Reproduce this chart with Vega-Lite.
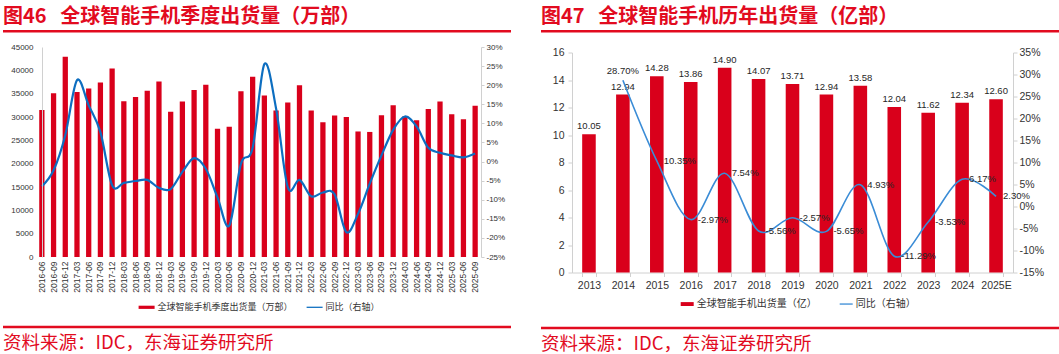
{
  "$schema": "https://vega.github.io/schema/vega-lite/v6.json",
  "padding": {"left": 3, "top": 7, "right": 0, "bottom": 0},
  "background": "white",
  "config": {
    "locale": {"number": {"decimal": ".", "thousands": ",", "grouping": [3], "currency": ["$", ""], "minus": "-"}},
    "view": {"stroke": null},
    "font": "Liberation Sans",
    "axis": {"domainColor": "#D0D0D0", "tickColor": "#D0D0D0", "labelColor": "#333333", "grid": false, "title": null, "labelFont": "Liberation Sans", "labelOverlap": false},
    "legend": {"labelFont": "Noto Sans CJK SC", "labelColor": "#333333", "symbolStrokeWidth": 0},
    "title": {"font": "Noto Sans CJK SC"}
  },
  "resolve": {"scale": {"color": "independent"}, "legend": {"color": "independent"}},
  "spacing": 30,
  "hconcat": [
    {
      "spacing": 4,
      "columns": 1,
      "resolve": {"scale": {"color": "independent"}, "legend": {"color": "independent"}},
      "concat": [
        {
          "width": 508, "height": 2.5,
          "view": {"fill": "#E20B1F", "stroke": null},
          "title": {"text": "图46\u00a0\u00a0\u00a0全球智能手机季度出货量（万部）", "anchor": "start", "frame": "group", "color": "#E20B1F", "fontSize": 20, "fontWeight": "bold", "offset": -2},
          "data": {"values": [{"t": ""}]},
          "mark": "text",
          "encoding": {"text": {"field": "t"}}
        },
        {
          "spacing": 7.75,
          "columns": 1,
          "resolve": {"scale": {"color": "independent"}, "legend": {"color": "independent"}},
          "concat": [
            {
              "spacing": 0,
              "resolve": {"scale": {"color": "independent"}, "legend": {"color": "independent"}},
              "hconcat": [
                {
                  "width": 1, "height": 1,
                  "data": {"values": [{"t": ""}]},
                  "mark": "text",
                  "encoding": {"text": {"field": "t"}}
                },
                {
                  "width": 445, "height": 210,
                  "data": {"values": [
                    {"q": "2016-06", "ship": 31500, "yoy": -0.065},
                    {"q": "2016-09", "ship": 35100, "yoy": -0.023},
                    {"q": "2016-12", "ship": 42900, "yoy": 0.069},
                    {"q": "2017-03", "ship": 35350, "yoy": 0.213},
                    {"q": "2017-06", "ship": 36100, "yoy": 0.147},
                    {"q": "2017-09", "ship": 37400, "yoy": 0.077},
                    {"q": "2017-12", "ship": 40400, "yoy": -0.062},
                    {"q": "2018-03", "ship": 33400, "yoy": -0.056},
                    {"q": "2018-06", "ship": 34300, "yoy": -0.051},
                    {"q": "2018-09", "ship": 35600, "yoy": -0.048},
                    {"q": "2018-12", "ship": 37600, "yoy": -0.069},
                    {"q": "2019-03", "ship": 31100, "yoy": -0.072},
                    {"q": "2019-06", "ship": 33300, "yoy": -0.027},
                    {"q": "2019-09", "ship": 35800, "yoy": 0.009},
                    {"q": "2019-12", "ship": 36900, "yoy": -0.019},
                    {"q": "2020-03", "ship": 27500, "yoy": -0.094},
                    {"q": "2020-06", "ship": 27900, "yoy": -0.168},
                    {"q": "2020-09", "ship": 35500, "yoy": -0.006},
                    {"q": "2020-12", "ship": 38600, "yoy": 0.036},
                    {"q": "2021-03", "ship": 34600, "yoy": 0.255},
                    {"q": "2021-06", "ship": 31400, "yoy": 0.139},
                    {"q": "2021-09", "ship": 33100, "yoy": -0.067},
                    {"q": "2021-12", "ship": 36800, "yoy": -0.048},
                    {"q": "2022-03", "ship": 31400, "yoy": -0.091},
                    {"q": "2022-06", "ship": 28900, "yoy": -0.081},
                    {"q": "2022-09", "ship": 30300, "yoy": -0.086},
                    {"q": "2022-12", "ship": 30000, "yoy": -0.185},
                    {"q": "2023-03", "ship": 26900, "yoy": -0.137},
                    {"q": "2023-06", "ship": 26800, "yoy": -0.058},
                    {"q": "2023-09", "ship": 30400, "yoy": 0.016},
                    {"q": "2023-12", "ship": 32500, "yoy": 0.083},
                    {"q": "2024-03", "ship": 30100, "yoy": 0.118},
                    {"q": "2024-06", "ship": 29300, "yoy": 0.092},
                    {"q": "2024-09", "ship": 31700, "yoy": 0.036},
                    {"q": "2024-12", "ship": 33300, "yoy": 0.023},
                    {"q": "2025-03", "ship": 30600, "yoy": 0.016},
                    {"q": "2025-06", "ship": 29500, "yoy": 0.011},
                    {"q": "2025-09", "ship": 32400, "yoy": 0.021}
                  ]},
                  "encoding": {
                    "x": {"field": "q", "type": "ordinal", "sort": null,
                      "scale": {"paddingInner": 0.55, "paddingOuter": 0.275},
                      "axis": {"labelAngle": -90, "labelFontSize": 8.5, "ticks": false, "domain": false, "labelPadding": 4, "labelOverlap": false}}
                  },
                  "layer": [
                    {
                      "mark": {"type": "bar"},
                      "encoding": {
                        "y": {"field": "ship", "type": "quantitative", "scale": {"domain": [0, 45000]},
                          "axis": {"values": [0, 5000, 10000, 15000, 20000, 25000, 30000, 35000, 40000, 45000], "format": "d", "labelFontSize": 8, "ticks": false, "labelPadding": 9, "offset": -6, "minExtent": 38, "zindex": 1, "labelOverlap": false}},
                        "color": {"datum": "全球智能手机季度出货量（万部）", "type": "nominal",
                          "scale": {"domain": ["全球智能手机季度出货量（万部）", "同比（右轴）"], "range": ["#D9001B", "#0D6EC0"]},
                          "legend": {"title": null, "orient": "none", "legendX": 102.6, "legendY": 252.3, "padding": 0, "direction": "horizontal", "labelFontSize": 9, "symbolSize": 256, "columnPadding": 13, "labelOffset": 3,
                            "encode": {"symbols": {"update": {
                              "shape": {"signal": "datum.value === '同比（右轴）' ? 'M-1,-0.08H1V0.08H-1Z' : 'M-1,-0.2H1V0.2H-1Z'"},
                              "fill": {"signal": "datum.value === '同比（右轴）' ? '#0D6EC0' : '#D9001B'"},
                              "stroke": {"value": "transparent"},
                              "opacity": {"value": 1}}}}}}
                      }
                    },
                    {
                      "mark": {"type": "line", "interpolate": "cardinal", "strokeWidth": 2.2},
                      "encoding": {
                        "y": {"field": "yoy", "type": "quantitative", "scale": {"domain": [-0.25, 0.3]},
                          "axis": {"orient": "right", "values": [-0.25, -0.2, -0.15, -0.1, -0.05, 0, 0.05, 0.1, 0.15, 0.2, 0.25, 0.3], "format": ".0%", "labelFontSize": 8, "tickSize": 3, "labelPadding": 2, "labelOverlap": false}},
                        "color": {"datum": "同比（右轴）", "type": "nominal"}
                      }
                    }
                  ],
                  "resolve": {"scale": {"y": "independent"}}
                }
              ]
            },
            {
              "width": 508, "height": 2.5,
              "view": {"fill": "#E20B1F", "stroke": null},
              "title": {"text": "资料来源：IDC，东海证券研究所", "orient": "bottom", "anchor": "start", "frame": "group", "color": "#E20B1F", "fontSize": 18.5, "fontWeight": "normal", "offset": 1.5, "baseline": "top"},
              "data": {"values": [{"t": ""}]},
              "mark": "text",
              "encoding": {"text": {"field": "t"}}
            }
          ]
        }
      ]
    },
    {
      "spacing": 9.5,
      "columns": 1,
      "resolve": {"scale": {"color": "independent"}, "legend": {"color": "independent"}},
      "concat": [
        {
          "width": 520, "height": 2.5,
          "view": {"fill": "#E20B1F", "stroke": null},
          "title": {"text": "图47\u00a0\u00a0\u00a0全球智能手机历年出货量（亿部）", "anchor": "start", "frame": "group", "color": "#E20B1F", "fontSize": 20, "fontWeight": "bold", "offset": -2},
          "data": {"values": [{"t": ""}]},
          "mark": "text",
          "encoding": {"text": {"field": "t"}}
        },
        {
          "spacing": 12.25,
          "columns": 1,
          "resolve": {"scale": {"color": "independent"}, "legend": {"color": "independent"}},
          "concat": [
            {
              "spacing": 0,
              "resolve": {"scale": {"color": "independent"}, "legend": {"color": "independent"}},
              "hconcat": [
                {
                  "width": 1, "height": 1,
                  "data": {"values": [{"t": ""}]},
                  "mark": "text",
                  "encoding": {"text": {"field": "t"}}
                },
                {
                  "width": 441, "height": 220,
                  "data": {"values": [
                    {"year": "2013", "ship": 10.05, "yoy": null},
                    {"year": "2014", "ship": 12.94, "yoy": 0.287},
                    {"year": "2015", "ship": 14.28, "yoy": 0.1035},
                    {"year": "2016", "ship": 13.86, "yoy": -0.0297},
                    {"year": "2017", "ship": 14.90, "yoy": 0.0754},
                    {"year": "2018", "ship": 14.07, "yoy": -0.0556},
                    {"year": "2019", "ship": 13.71, "yoy": -0.0257},
                    {"year": "2020", "ship": 12.94, "yoy": -0.0565},
                    {"year": "2021", "ship": 13.58, "yoy": 0.0493},
                    {"year": "2022", "ship": 12.04, "yoy": -0.1129},
                    {"year": "2023", "ship": 11.62, "yoy": -0.0353},
                    {"year": "2024", "ship": 12.34, "yoy": 0.0617},
                    {"year": "2025E", "ship": 12.60, "yoy": 0.0230}
                  ]},
                  "encoding": {
                    "x": {"field": "year", "type": "ordinal", "sort": null,
                      "scale": {"paddingInner": 0.6, "paddingOuter": 0.3},
                      "axis": {"labelAngle": 0, "labelFontSize": 10.5, "tickBand": "extent", "tickSize": 4, "labelPadding": 4, "labelOverlap": false}}
                  },
                  "layer": [
                    {
                      "encoding": {
                        "y": {"field": "ship", "type": "quantitative", "scale": {"domain": [0, 16]},
                          "axis": {"values": [0, 2, 4, 6, 8, 10, 12, 14, 16], "labelFontSize": 10.5, "tickSize": 4, "labelPadding": 4, "minExtent": 30, "labelOverlap": false}}
                      },
                      "layer": [
                        {
                          "mark": {"type": "bar"},
                          "encoding": {
                            "color": {"datum": "全球智能手机出货量（亿）", "type": "nominal",
                              "scale": {"domain": ["全球智能手机出货量（亿）", "同比（右轴）"], "range": ["#D9001B", "#3A8CD6"]},
                              "legend": {"title": null, "orient": "none", "legendX": 108.7, "legendY": 244.8, "padding": 0, "direction": "horizontal", "labelFontSize": 10, "symbolSize": 169, "columnPadding": 23, "labelOffset": 3,
                                "encode": {"symbols": {"update": {
                                  "shape": {"signal": "datum.value === '同比（右轴）' ? 'M-1,-0.1H1V0.1H-1Z' : 'M-1,-0.3H1V0.3H-1Z'"},
                                  "fill": {"signal": "datum.value === '同比（右轴）' ? '#3A8CD6' : '#D9001B'"},
                                  "stroke": {"value": "transparent"},
                                  "opacity": {"value": 1}}}}}}
                          }
                        },
                        {
                          "mark": {"type": "text", "baseline": "alphabetic", "dy": -5, "fontSize": 9.5, "color": "#262626"},
                          "encoding": {
                            "text": {"field": "ship", "type": "quantitative", "format": ".2f"}
                          }
                        }
                      ]
                    },
                    {
                      "encoding": {
                        "y": {"field": "yoy", "type": "quantitative", "scale": {"domain": [-0.15, 0.35]},
                          "axis": {"orient": "right", "values": [-0.15, -0.1, -0.05, 0, 0.05, 0.1, 0.15, 0.2, 0.25, 0.3, 0.35], "format": ".0%", "labelFontSize": 10.5, "tickSize": 4, "labelPadding": 2, "labelOverlap": false}}
                      },
                      "layer": [
                        {
                          "mark": {"type": "line", "interpolate": "cardinal", "strokeWidth": 1.6},
                          "encoding": {
                            "color": {"datum": "同比（右轴）", "type": "nominal"}
                          }
                        },
                        {
                          "transform": [{"filter": "datum.yoy != null && datum.year != '2014'"}],
                          "mark": {"type": "text", "align": "left", "baseline": "middle", "dx": 7, "fontSize": 9.5, "color": "#262626"},
                          "encoding": {
                            "text": {"field": "yoy", "type": "quantitative", "format": ".2%"}
                          }
                        },
                        {
                          "transform": [{"filter": "datum.year == '2014'"}],
                          "mark": {"type": "text", "align": "center", "baseline": "middle", "dy": -9, "fontSize": 9.5, "color": "#262626"},
                          "encoding": {
                            "text": {"field": "yoy", "type": "quantitative", "format": ".2%"}
                          }
                        }
                      ]
                    }
                  ],
                  "resolve": {"scale": {"y": "independent"}}
                }
              ]
            },
            {
              "width": 520, "height": 2.5,
              "view": {"fill": "#E20B1F", "stroke": null},
              "title": {"text": "资料来源：IDC，东海证券研究所", "orient": "bottom", "anchor": "start", "frame": "group", "color": "#E20B1F", "fontSize": 18.5, "fontWeight": "normal", "offset": 1.5, "baseline": "top"},
              "data": {"values": [{"t": ""}]},
              "mark": "text",
              "encoding": {"text": {"field": "t"}}
            }
          ]
        }
      ]
    }
  ]
}
